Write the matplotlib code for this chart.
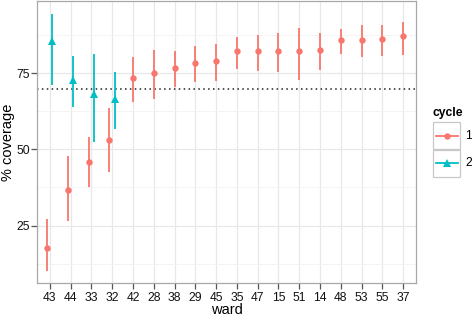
import matplotlib
matplotlib.use("Agg")
import matplotlib.pyplot as plt
from matplotlib.lines import Line2D
from matplotlib.patches import Rectangle
import numpy as np

plt.rcParams['font.family'] = ['Liberation Sans', 'DejaVu Sans']

# ward order on the x axis
wards = ['43', '44', '33', '32', '42', '28', '38', '29', '45', '35',
         '47', '15', '51', '14', '48', '53', '55', '37']

# cycle 1: one estimate per ward
c1_wards = wards
c1_mid = [17.7, 36.6, 45.8, 53.1, 73.5, 75.2, 76.8, 78.5, 79.0, 82.2,
          82.3, 82.5, 82.5, 82.8, 85.9, 86.1, 86.3, 87.3]
c1_lo = [10.2, 26.5, 37.6, 42.5, 65.5, 66.5, 70.6, 72.1, 72.5, 76.5,
         75.9, 75.3, 72.7, 76.2, 81.3, 80.3, 80.6, 81.2]
c1_hi = [27.3, 48.0, 54.2, 63.6, 80.4, 82.6, 82.3, 84.1, 84.6, 87.0,
         87.5, 88.4, 90.0, 88.3, 89.7, 90.9, 90.9, 91.9]

# cycle 2: only the first four wards
c2_wards = ['43', '44', '33', '32']
c2_mid = [85.8, 72.8, 68.2, 66.7]
c2_lo = [71.3, 63.8, 52.3, 56.8]
c2_hi = [94.6, 80.7, 81.5, 75.5]

target = 70
red = '#F8766D'
cyan = '#00BFC4'

W, H = 472, 317
fig = plt.figure(figsize=(W / 100, H / 100), dpi=100)
ax = fig.add_axes([37.3 / W, (H - 283.3) / H, (415.7 - 37.3) / W, (283.3 - 1) / H])

# dodge wards that have both cycles
both = set(c1_wards) & set(c2_wards)
dodge = 0.13
x1 = [wards.index(w) - (dodge if w in both else 0) for w in c1_wards]
x2 = [wards.index(w) + (dodge if w in both else 0) for w in c2_wards]

ax.vlines(x1, c1_lo, c1_hi, color=red, lw=1.3, zorder=3)
ax.plot(x1, c1_mid, 'o', color=red, ms=4.6, mew=0, zorder=4)
ax.vlines(x2, c2_lo, c2_hi, color=cyan, lw=1.3, zorder=3)
ax.plot(x2, c2_mid, '^', color=cyan, ms=5.2, mew=0, zorder=4)

ax.axhline(target, color='#222222', lw=1.1, ls=(0, (1, 2.2)), zorder=2)

ax.set_xlim(-0.6, len(wards) - 0.4)
ax.set_ylim(6.0, 98.8)
ax.set_xticks(range(len(wards)))
ax.set_xticklabels(wards)
ax.set_yticks([25, 50, 75])
ax.set_yticks([12.5, 37.5, 62.5, 87.5], minor=True)

ax.grid(True, which='major', color='#E8E8E8', lw=0.9, zorder=0)
ax.grid(True, which='minor', axis='y', color='#F3F3F3', lw=0.6, zorder=0)
ax.set_axisbelow(True)
for s in ax.spines.values():
    s.set_color('#A8A8A8')
    s.set_linewidth(0.9)
ax.tick_params(which='major', length=4, width=0.9, color='#555555',
               labelsize=8.7, labelcolor='#111111', pad=2)
ax.tick_params(axis='y', pad=1.2)
ax.tick_params(which='minor', length=0)

fig.text(227 / W, 1 - 310 / H, 'ward', ha='center', va='center', fontsize=10.5)
fig.text(8 / W, 1 - 142 / H, '% coverage', ha='center', va='center',
         rotation=90, fontsize=10.5)

# legend drawn by hand, ggplot style keys
fig.text(448 / W, 1 - 113 / H, 'cycle', ha='center', va='center',
         fontsize=8.7, fontweight='bold')
keys = [('1', red, 'o', 4.6), ('2', cyan, '^', 5.2)]
for i, (lab, col, mk, ms) in enumerate(keys):
    top = 121.7 + i * 27.8
    fig.add_artist(Rectangle((433.3 / W, 1 - (top + 27.8) / H), 26.7 / W, 27.8 / H,
                             transform=fig.transFigure, fc='white',
                             ec='#C8C8C8', lw=0.9))
    yk = 1 - (top + 13.9) / H
    fig.add_artist(Line2D([435.5 / W, 457.8 / W], [yk, yk], transform=fig.transFigure,
                          color=col, lw=1.3))
    fig.add_artist(Line2D([446.6 / W], [yk], transform=fig.transFigure, color=col,
                          marker=mk, ms=ms, mew=0, ls='none'))
    fig.text(465 / W, yk, lab, ha='left', va='center', fontsize=8.7)

fig.savefig('out.png', dpi=100)
